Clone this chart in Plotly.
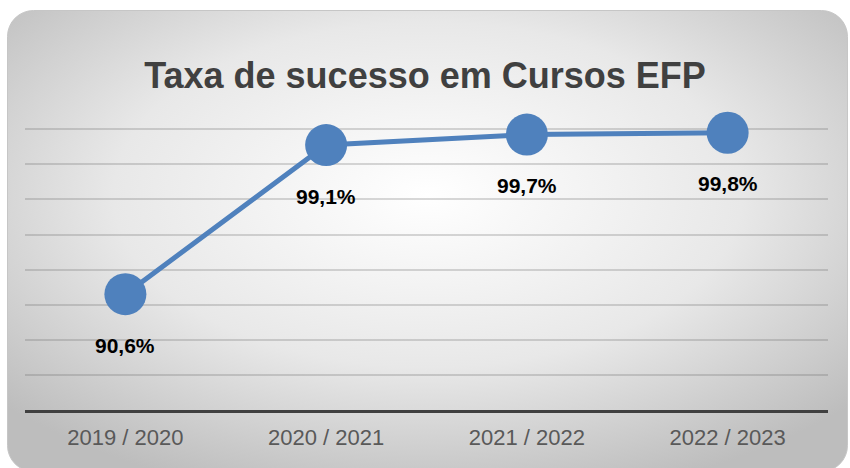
import base64
import plotly.graph_objects as go

# data
anos = ["2019 / 2020", "2020 / 2021", "2021 / 2022", "2022 / 2023"]
taxa = [90.6, 99.1, 99.7, 99.8]
rotulos = ["90,6%", "99,1%", "99,7%", "99,8%"]

azul = "#4F81BD"

# fundo com gradiente radial (cantos arredondados), feito em svg
svg = """<svg xmlns='http://www.w3.org/2000/svg' width='841' height='462' viewBox='0 0 841 462'>
<defs><radialGradient id='g' cx='50%' cy='40%' r='68%'>
<stop offset='0' stop-color='#ffffff'/><stop offset='0.55' stop-color='#e8e8e8'/>
<stop offset='1' stop-color='#bdbdbd'/></radialGradient></defs>
<rect x='0.5' y='0.5' width='840' height='461' rx='26' ry='26' fill='url(#g)' stroke='#c6c6c6' stroke-width='1'/>
</svg>"""
fundo = "data:image/svg+xml;base64," + base64.b64encode(svg.encode()).decode()

fig = go.Figure()
fig.add_trace(go.Scatter(x=anos, y=taxa, mode="lines+markers",
                         line=dict(color=azul, width=5),
                         marker=dict(color=azul, size=42),
                         cliponaxis=False, hoverinfo="skip", showlegend=False))

for a, v, r in zip(anos, taxa, rotulos):
    fig.add_annotation(x=a, y=v, text="<b>" + r + "</b>", showarrow=False,
                       yshift=-51, font=dict(family="Liberation Sans, Arial", size=21, color="#000000"))

# plot area px: x 25..828, y 124..410
fig.add_layout_image(dict(source=fundo, xref="paper", yref="paper",
                          x=(7 - 25) / 803, y=(410 - 10) / 286,
                          sizex=841 / 803, sizey=462 / 286,
                          xanchor="left", yanchor="top", sizing="stretch", layer="below"))

fig.update_layout(
    width=850, height=468,
    margin=dict(l=25, r=22, t=124, b=58),
    paper_bgcolor="white", plot_bgcolor="rgba(0,0,0,0)",
    title=dict(text="<b>Taxa de sucesso em Cursos EFP</b>", x=0.5, xanchor="center",
               y=1 - 75 / 468, yanchor="middle", yref="container",
               font=dict(family="Liberation Sans, Arial", size=36, color="#404040")),
    xaxis=dict(showgrid=False, showline=True, linecolor="#404040", linewidth=3,
               ticks="", range=[-0.5, 3.5], ticklabelstandoff=6,
               tickfont=dict(family="Liberation Sans, Arial", size=22, color="#595959")),
    yaxis=dict(range=[84, 100.3], dtick=2, tick0=84, showticklabels=False,
               showgrid=True, gridcolor="rgba(100,100,100,0.25)", gridwidth=1.5,
               zeroline=False, showline=False),
)

fig.write_html("out.html", config={"displayModeBar": False},
               post_script="document.body.style.margin='0';")
